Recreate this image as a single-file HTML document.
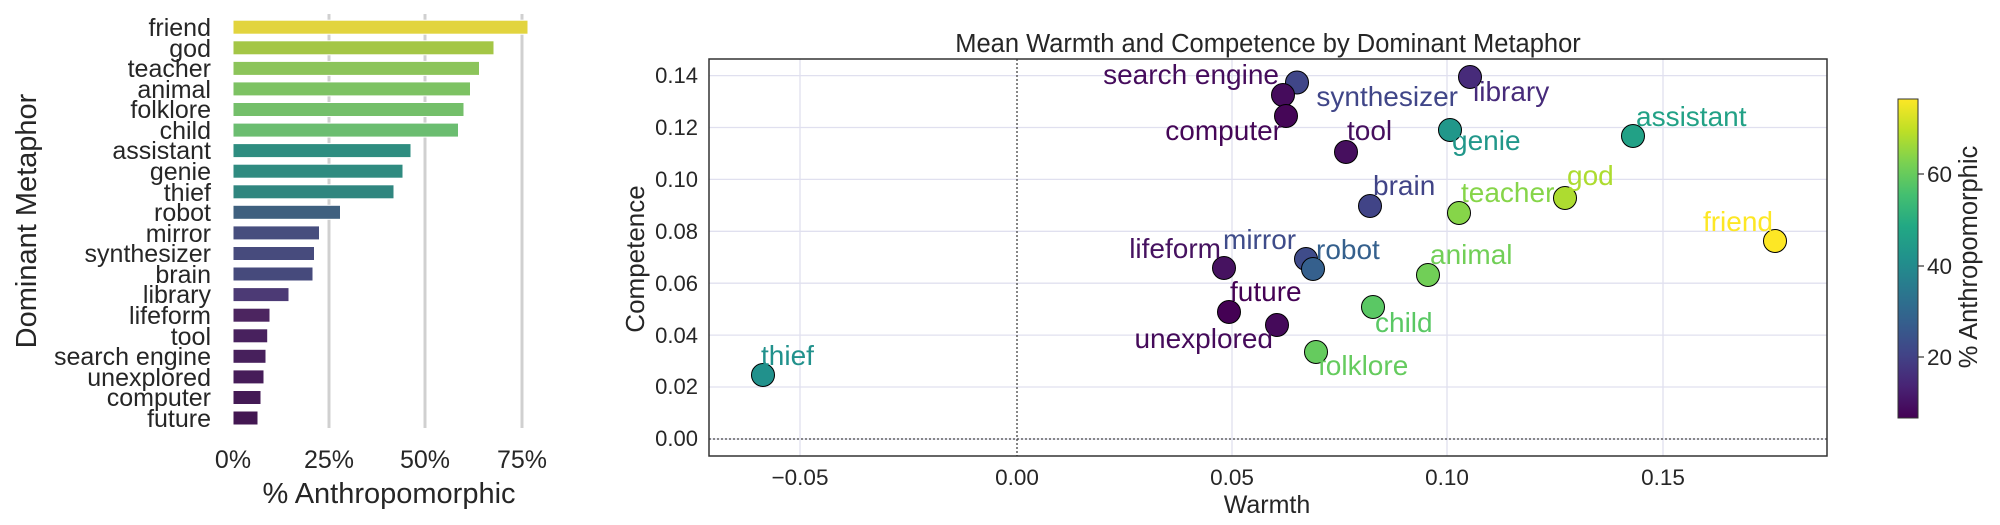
<!DOCTYPE html>
<html><head><meta charset="utf-8"><style>
html,body{margin:0;padding:0;background:#fff;}
svg{display:block;font-family:"Liberation Sans",Arial,sans-serif;}
</style></head><body>
<svg width="2000" height="525" viewBox="0 0 2000 525" xmlns="http://www.w3.org/2000/svg">
<!-- Bar chart -->
<g stroke="#d0d0d0" stroke-width="3">
<line x1="329" y1="14" x2="329" y2="428"/>
<line x1="425" y1="14" x2="425" y2="428"/>
<line x1="522" y1="14" x2="522" y2="428"/>
</g>
<g stroke="#fff" stroke-width="1">
<rect x="233" y="20.2" width="295" height="14" fill="#e2d43e"/>
<rect x="233" y="40.8" width="261" height="14" fill="#a4c646"/>
<rect x="233" y="61.4" width="246.5" height="14" fill="#8cc45a"/>
<rect x="233" y="81.9" width="237.5" height="14" fill="#7dc263"/>
<rect x="233" y="102.5" width="231" height="14" fill="#74bf6a"/>
<rect x="233" y="123.1" width="225.5" height="14" fill="#6bbd70"/>
<rect x="233" y="143.6" width="178" height="14" fill="#2e8d80"/>
<rect x="233" y="164.2" width="170" height="14" fill="#2f8b80"/>
<rect x="233" y="184.8" width="161" height="14" fill="#30867f"/>
<rect x="233" y="205.3" width="107.5" height="14" fill="#3f607f"/>
<rect x="233" y="225.9" width="86.5" height="14" fill="#474e7e"/>
<rect x="233" y="246.5" width="81.5" height="14" fill="#474b7d"/>
<rect x="233" y="267.0" width="80" height="14" fill="#464a7c"/>
<rect x="233" y="287.6" width="56" height="14" fill="#4c3a75"/>
<rect x="233" y="308.2" width="37" height="14" fill="#4c2560"/>
<rect x="233" y="328.8" width="34.7" height="14" fill="#48215e"/>
<rect x="233" y="349.3" width="33" height="14" fill="#47205c"/>
<rect x="233" y="369.9" width="31" height="14" fill="#461c59"/>
<rect x="233" y="390.5" width="28" height="14" fill="#441a55"/>
<rect x="233" y="411.0" width="25" height="14" fill="#431752"/>
</g>
<g fill="#262626" font-size="25" text-anchor="end">
<text x="211" y="36">friend</text>
<text x="211" y="57">god</text>
<text x="211" y="77">teacher</text>
<text x="211" y="98">animal</text>
<text x="211" y="118">folklore</text>
<text x="211" y="139">child</text>
<text x="211" y="159">assistant</text>
<text x="211" y="180">genie</text>
<text x="211" y="201">thief</text>
<text x="211" y="221">robot</text>
<text x="211" y="242">mirror</text>
<text x="211" y="262">synthesizer</text>
<text x="211" y="283">brain</text>
<text x="211" y="303">library</text>
<text x="211" y="324">lifeform</text>
<text x="211" y="345">tool</text>
<text x="211" y="365">search engine</text>
<text x="211" y="386">unexplored</text>
<text x="211" y="406">computer</text>
<text x="211" y="427">future</text>
</g>
<g fill="#262626" font-size="25" text-anchor="middle">
<text x="233" y="468">0%</text>
<text x="329" y="468">25%</text>
<text x="425" y="468">50%</text>
<text x="522" y="468">75%</text>
<text x="389" y="503" font-size="29">% Anthropomorphic</text>
<text transform="translate(36,221) rotate(-90)" font-size="29">Dominant Metaphor</text>
</g>

<!-- Scatter -->
<g stroke="#e0e0ef" stroke-width="1.3">
<line x1="709" y1="75.6" x2="1827" y2="75.6"/>
<line x1="709" y1="127.5" x2="1827" y2="127.5"/>
<line x1="709" y1="179.4" x2="1827" y2="179.4"/>
<line x1="709" y1="231.3" x2="1827" y2="231.3"/>
<line x1="709" y1="283.2" x2="1827" y2="283.2"/>
<line x1="709" y1="335.1" x2="1827" y2="335.1"/>
<line x1="709" y1="387" x2="1827" y2="387"/>
<line x1="709" y1="439" x2="1827" y2="439"/>
<line x1="800" y1="59" x2="800" y2="456"/>
<line x1="1232" y1="59" x2="1232" y2="456"/>
<line x1="1447" y1="59" x2="1447" y2="456"/>
<line x1="1663" y1="59" x2="1663" y2="456"/>
</g>
<g stroke="#444" stroke-width="1.3" stroke-dasharray="2,2">
<line x1="1017" y1="59" x2="1017" y2="456"/>
<line x1="709" y1="439" x2="1827" y2="439"/>
</g>
<rect x="709" y="59" width="1118" height="397" fill="none" stroke="#333" stroke-width="1.5"/>
<text x="1268" y="52" font-size="25.5" fill="#262626" text-anchor="middle">Mean Warmth and Competence by Dominant Metaphor</text>
<g fill="#262626" font-size="22" text-anchor="end">
<text x="698" y="83">0.14</text>
<text x="698" y="135">0.12</text>
<text x="698" y="187">0.10</text>
<text x="698" y="239">0.08</text>
<text x="698" y="291">0.06</text>
<text x="698" y="343">0.04</text>
<text x="698" y="394">0.02</text>
<text x="698" y="446">0.00</text>
</g>
<g fill="#262626" font-size="22.5" text-anchor="middle">
<text x="800" y="485">−0.05</text>
<text x="1017" y="485">0.00</text>
<text x="1232" y="485">0.05</text>
<text x="1447" y="485">0.10</text>
<text x="1663" y="485">0.15</text>
<text x="1267" y="513" font-size="25">Warmth</text>
<text transform="translate(644,259) rotate(-90)" font-size="26">Competence</text>
</g>
<g stroke="#000" stroke-width="1">
<circle cx="763" cy="375" r="11.5" fill="#21918c"/>
<circle cx="1297" cy="82.5" r="11.5" fill="#404688"/>
<circle cx="1283" cy="95" r="11.5" fill="#450c5c"/>
<circle cx="1286" cy="116" r="11.5" fill="#450657"/>
<circle cx="1470" cy="77" r="11.5" fill="#472b7a"/>
<circle cx="1346" cy="152" r="11.5" fill="#460f5e"/>
<circle cx="1450" cy="130" r="11.5" fill="#21978a"/>
<circle cx="1633" cy="136" r="11.5" fill="#22a186"/>
<circle cx="1370" cy="206" r="11.5" fill="#414487"/>
<circle cx="1459" cy="213" r="11.5" fill="#86d549"/>
<circle cx="1565" cy="198" r="11.5" fill="#addc30"/>
<circle cx="1775" cy="241" r="11.5" fill="#fde725"/>
<circle cx="1224" cy="268" r="11.5" fill="#461260"/>
<circle cx="1306" cy="259" r="11.5" fill="#3f4c8a"/>
<circle cx="1313" cy="269" r="11.5" fill="#35608d"/>
<circle cx="1428" cy="275" r="11.5" fill="#71cf57"/>
<circle cx="1229" cy="312" r="11.5" fill="#440154"/>
<circle cx="1277" cy="325" r="11.5" fill="#450a5a"/>
<circle cx="1373" cy="307" r="11.5" fill="#5ac864"/>
<circle cx="1316" cy="352" r="11.5" fill="#65cb5e"/>
</g>
<g font-size="28">
<text x="761" y="365" fill="#21918c">thief</text>
<text x="1279" y="84" fill="#450c5c" text-anchor="end">search engine</text>
<text x="1458" y="106" fill="#404688" text-anchor="end">synthesizer</text>
<text x="1282" y="140" fill="#450657" text-anchor="end">computer</text>
<text x="1473" y="101" fill="#472b7a">library</text>
<text x="1347" y="140" fill="#460f5e">tool</text>
<text x="1452" y="150" fill="#21978a">genie</text>
<text x="1636" y="126" fill="#22a186">assistant</text>
<text x="1373" y="195" fill="#414487">brain</text>
<text x="1461" y="202" fill="#86d549">teacher</text>
<text x="1567" y="185" fill="#addc30">god</text>
<text x="1773" y="231" fill="#fde725" text-anchor="end">friend</text>
<text x="1221" y="258" fill="#461260" text-anchor="end">lifeform</text>
<text x="1223" y="249" fill="#3f4c8a">mirror</text>
<text x="1316" y="259" fill="#35608d">robot</text>
<text x="1430" y="264" fill="#71cf57">animal</text>
<text x="1230" y="301" fill="#440154">future</text>
<text x="1273" y="348" fill="#450a5a" text-anchor="end">unexplored</text>
<text x="1375" y="332" fill="#5ac864">child</text>
<text x="1318" y="375" fill="#65cb5e">folklore</text>
</g>

<!-- Colorbar -->
<defs>
<linearGradient id="vir" x1="0" y1="1" x2="0" y2="0">
<stop offset="0" stop-color="#440154"/>
<stop offset="0.1" stop-color="#482475"/>
<stop offset="0.2" stop-color="#414487"/>
<stop offset="0.3" stop-color="#355f8d"/>
<stop offset="0.4" stop-color="#2a788e"/>
<stop offset="0.5" stop-color="#21918c"/>
<stop offset="0.6" stop-color="#22a884"/>
<stop offset="0.7" stop-color="#44bf70"/>
<stop offset="0.8" stop-color="#7ad151"/>
<stop offset="0.9" stop-color="#bddf26"/>
<stop offset="1" stop-color="#fde725"/>
</linearGradient>
</defs>
<rect x="1898" y="99" width="20" height="319" fill="url(#vir)" stroke="#333" stroke-width="1"/>
<g stroke="#333" stroke-width="1.2">
<line x1="1918" y1="174" x2="1924" y2="174"/>
<line x1="1918" y1="266" x2="1924" y2="266"/>
<line x1="1918" y1="357" x2="1924" y2="357"/>
</g>
<g fill="#262626" font-size="22.5">
<text x="1927" y="182">60</text>
<text x="1927" y="274">40</text>
<text x="1927" y="365">20</text>
<text transform="translate(1977,257) rotate(-90)" text-anchor="middle" font-size="25.5">% Anthropomorphic</text>
</g>
</svg>
</body></html>
